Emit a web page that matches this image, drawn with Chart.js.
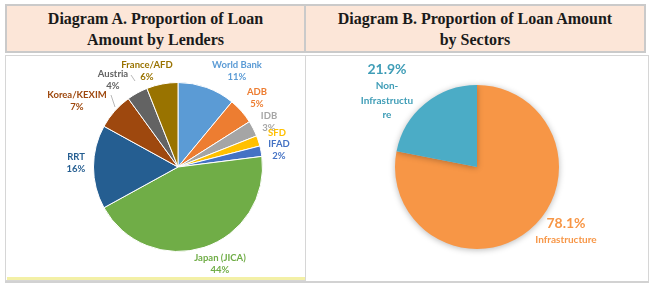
<!DOCTYPE html>
<html>
<head>
<meta charset="utf-8">
<script src="https://cdn.jsdelivr.net/npm/chart.js@4.4.1/dist/chart.umd.min.js"></script>
<style>
  html,body{margin:0;padding:0;background:#fff;}
  body{width:652px;height:285px;position:relative;overflow:hidden;}
  .hdr{position:absolute;top:4px;height:49px;background:#FCE6D8;border:2px solid #CACACA;
       font-family:"Liberation Serif","DejaVu Serif",serif;font-weight:bold;font-size:16px;line-height:21px;
       color:#1a1a1a;text-align:center;box-sizing:border-box;padding-top:2px;}
  .cell{position:absolute;top:55px;border:1px solid #D6D6D6;box-sizing:border-box;background:#fff;}
  canvas{position:absolute;}
</style>
</head>
<body>
<div class="hdr" style="left:5px;width:301px;">Diagram A. Proportion of Loan<br>Amount by Lenders</div>
<div class="hdr" style="left:304px;width:342px;">Diagram B. Proportion of Loan Amount<br>by Sectors</div>
<div class="cell" style="left:5px;width:301px;height:226px;"></div>
<div class="cell" style="left:305px;width:344px;height:228px;"></div>
<div style="position:absolute;left:7px;top:277px;width:298px;height:3px;background:#F3F0A6;"></div>
<div style="position:absolute;left:5px;top:281px;width:644px;height:2px;background:#D2D2D2;"></div>
<canvas id="cA" width="298" height="221" style="left:6px;top:57px;width:298px;height:221px;"></canvas>
<canvas id="cB" width="340" height="223" style="left:307px;top:57px;width:340px;height:223px;"></canvas>
<script>
// ---- Data ----
const lenderLabels = ['World Bank','ADB','IDB','SFD','IFAD','Japan (JICA)','RRT','Korea/KEXIM','Austria','France/AFD'];
const lenderValues = [11,5,3,2,2,44,16,7,4,6];
const lenderColors = ['#5B9BD5','#ED7D31','#A5A5A5','#FFC000','#4472C4','#70AD47','#255E91','#9E480E','#636363','#997300'];
const sectorLabels = ['Infrastructure','Non-Infrastructure'];
const sectorValues = [78.1,21.9];
const sectorColors = ['#F79646','#4BACC6'];

// label placement (offsets from pie centre, px)
const lenderLabelPos = [[59,-102],[79,-75],[91,-51],[99,-34],[101,-23],[42,91],[-102,-10],[-101,-72],[-65,-93],[-31,-102]];
const lenderShowPct = [true,true,true,false,true,true,true,true,true,true];
const lenderLeader = [null,null,null,null,null,null,null,[[-67,-72],[-63,-60]],[[-47,-92],[-43,-86]],null];

const lenderLabelPlugin = {
  id:'lenderLabels',
  afterDraw(chart){
    const ctx = chart.ctx;
    const meta = chart.getDatasetMeta(0);
    const cx = meta.data[0].x, cy = meta.data[0].y;
    ctx.save();
    ctx.textAlign='center'; ctx.textBaseline='middle';
    ctx.font='bold 9.5px Lato, "Open Sans", sans-serif';
    lenderLabels.forEach((name,i)=>{
      const [dx,dy]=lenderLabelPos[i];
      if(lenderLeader[i]){
        ctx.strokeStyle='#A6A6A6'; ctx.lineWidth=0.8;
        ctx.beginPath();
        ctx.moveTo(cx+lenderLeader[i][0][0], cy+lenderLeader[i][0][1]);
        ctx.lineTo(cx+lenderLeader[i][1][0], cy+lenderLeader[i][1][1]);
        ctx.stroke();
      }
      ctx.fillStyle=lenderColors[i];
      ctx.fillText(name,cx+dx,cy+dy);
      if(lenderShowPct[i]) ctx.fillText(lenderValues[i]+'%',cx+dx,cy+dy+12);
    });
    ctx.restore();
  }
};

new Chart(document.getElementById('cA'),{
  type:'pie',
  data:{labels:lenderLabels,datasets:[{data:lenderValues,backgroundColor:lenderColors,borderColor:'#ffffff',borderWidth:1}]},
  options:{responsive:false,animation:false,
    layout:{padding:{left:87,right:41,top:25,bottom:26}},
    plugins:{legend:{display:false},tooltip:{enabled:false}}},
  plugins:[lenderLabelPlugin]
});

const shadowPlugin = {
  id:'shadow',
  beforeDatasetsDraw(chart){const c=chart.ctx;c.save();c.shadowColor='rgba(0,0,0,0.28)';c.shadowBlur=6;c.shadowOffsetX=0;c.shadowOffsetY=1;},
  afterDatasetsDraw(chart){chart.ctx.restore();}
};
const sectorLabelPos = [[89,56],[-90,-98]];
const sectorLabelLines = [['Infrastructure'],['Non-','Infrastructu','re']];
const sectorLabelColors = ['#F79646','#3F9DB7'];
const sectorLabelPlugin = {
  id:'sectorLabels',
  afterDraw(chart){
    const ctx=chart.ctx; const meta=chart.getDatasetMeta(0);
    const cx=meta.data[0].x, cy=meta.data[0].y;
    ctx.save(); ctx.textAlign='center'; ctx.textBaseline='middle';
    sectorValues.forEach((v,i)=>{
      const [dx,dy]=sectorLabelPos[i];
      ctx.fillStyle=sectorLabelColors[i];
      ctx.font='bold 14px Lato, "Open Sans", sans-serif';
      ctx.fillText(v.toFixed(1)+'%',cx+dx,cy+dy);
      ctx.font='bold 10px Lato, "Open Sans", sans-serif';
      let y=cy+dy+17;
      sectorLabelLines[i].forEach(t=>{ctx.fillText(t,cx+dx,y); y+=14.5;});
    });
    ctx.restore();
  }
};
new Chart(document.getElementById('cB'),{
  type:'pie',
  data:{labels:sectorLabels,datasets:[{data:sectorValues,backgroundColor:sectorColors,borderColor:'#ffffff',borderWidth:0}]},
  options:{responsive:false,animation:false,
    layout:{padding:{left:88,right:88,top:28,bottom:31}},
    plugins:{legend:{display:false},tooltip:{enabled:false}}},
  plugins:[shadowPlugin,sectorLabelPlugin]
});
</script>
</body>
</html>
